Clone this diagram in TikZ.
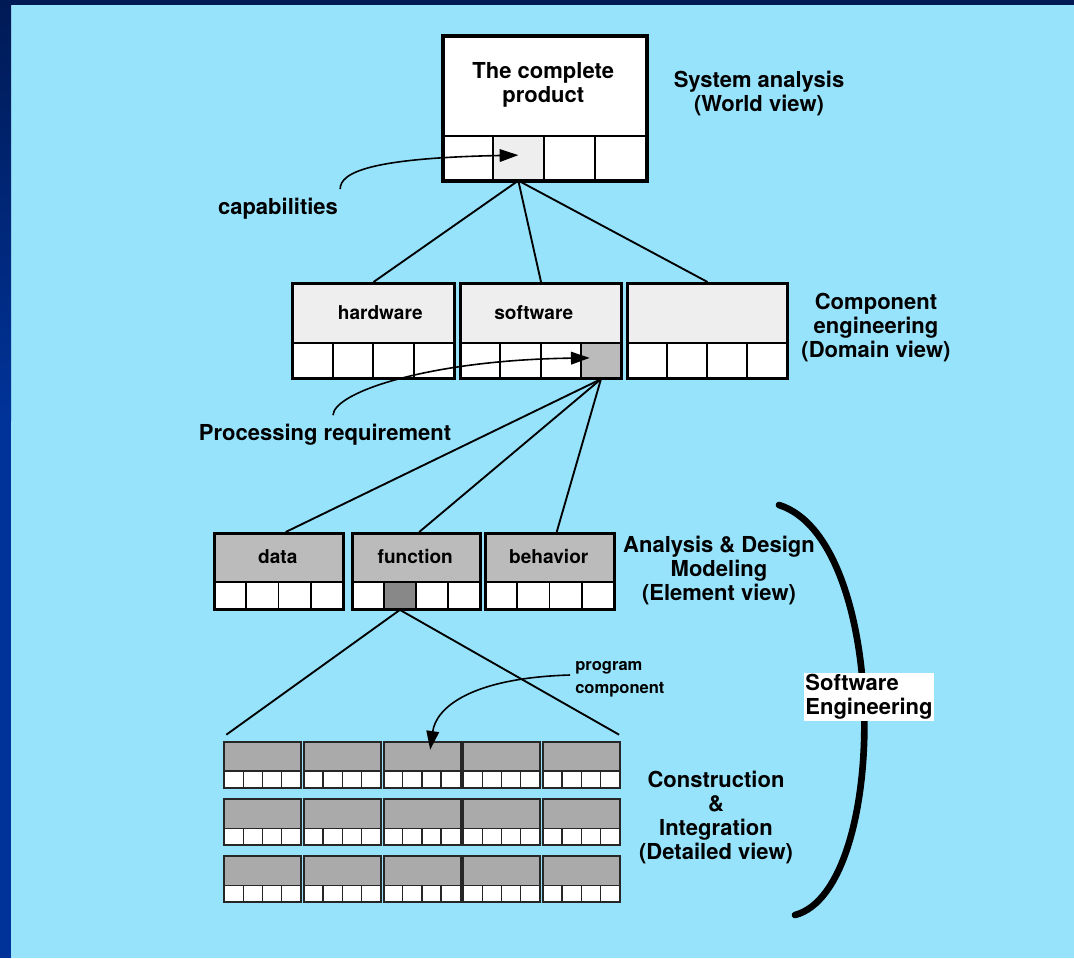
\documentclass[tikz,border=0pt]{standalone}
\usepackage{fontspec}
\setmainfont{TeX Gyre Heros}
\usetikzlibrary{arrows.meta,calc}

\definecolor{sky}{RGB}{151,227,252}
\definecolor{navy}{RGB}{0,26,85}
\definecolor{royal}{RGB}{0,51,153}
\definecolor{paleg}{RGB}{238,238,238}
\definecolor{midg}{RGB}{187,187,187}
\definecolor{boxg}{RGB}{170,170,170}
\definecolor{darkg}{RGB}{136,136,136}

\def\px{0.75pt}
\newcommand\fbig{\fontsize{16.5}{18}\selectfont\bfseries}
\newcommand\fmid{\fontsize{14.3}{17}\selectfont\bfseries}
\newcommand\fsmall{\fontsize{12.4}{17.25}\selectfont\bfseries}

% #1 name, #2 left, #3 top, #4 width, #5 head height, #6 cell height,
% #7 head options, #8 head text, #9 fills of the four cells
\newcommand\compbox[9]{%
  \node[head, #7, minimum width={#4*\px}, minimum height={#5*\px}, anchor=north west]
    (#1-head) at ({#2},{#3}) {#8};
  \foreach \f [count=\i] in {#9} {
    \node[cell, fill=\f, minimum width={#4/4*\px}, minimum height={#6*\px}, anchor=north west]
      (#1-c\i) at ({#2+(\i-1)*#4/4},{#3+#5}) {};
  }
  \node[frame, minimum width={#4*\px}, minimum height={(#5+#6)*\px}, anchor=north west]
    (#1) at ({#2},{#3}) {};
}

\begin{document}
\begin{tikzpicture}[x=0.75pt,y=-0.75pt,
  head/.style={inner sep=0, align=center, font=\fmid},
  cell/.style={draw=black, line width=1.6pt, inner sep=0},
  frame/.style={draw=black, line width=2.3pt, inner sep=0},
  link/.style={line width=1.4pt},
  pointer/.style={line width=1.2pt, -{Triangle[length=14pt,width=9.5pt]}},
  lab/.style={font=\fbig, align=center, inner sep=0},
]
\useasboundingbox (0,0) rectangle (1074,958);

% backdrop
\fill[sky] (0,0) rectangle (1074,958);
\fill[navy] (0,0) rectangle (1074,5);
\shade[top color=navy, bottom color=royal] (0,0) rectangle (11,420);
\fill[royal] (0,419) rectangle (11,958);

% system level
\begin{scope}[frame/.append style={line width=3pt}, cell/.append style={line width=1.2pt}]
  \compbox{top}{441}{34}{204}{101}{44}{fill=white, font=\fbig}{The complete\\product}{white,paleg,white,white}
\end{scope}

% component level
\compbox{hw}{291}{282}{162}{60}{35}{fill=paleg}{\hspace*{12pt}hardware}{white,white,white,white}
\compbox{sw}{459}{282}{161}{60}{35}{fill=paleg}{software\hspace*{9pt}}{white,white,white,midg}
\compbox{other}{626}{282}{160}{60}{35}{fill=paleg}{}{white,white,white,white}

% element level
\begin{scope}[cell/.append style={line width=1.4pt}]
  \compbox{data}{213}{532}{129}{49}{27}{fill=midg}{data}{white,white,white,white}
  \compbox{func}{351}{532}{128}{49}{27}{fill=midg}{function}{white,darkg,white,white}
  \compbox{behav}{484}{532}{129}{49}{27}{fill=midg}{behavior}{white,white,white,white}
\end{scope}

% detailed level
\begin{scope}[frame/.append style={line width=1.5pt, draw=black!85}, cell/.append style={line width=1pt, draw=black!85}]
  \foreach \r in {1,2,3} {
    \foreach \c in {1,...,5} {
      \compbox{g\r\c}{223.3+79.7*(\c-1)}{740.7+57.3*(\r-1)}{77}{29.5}{16.5}{fill=boxg}{}{white,white,white,white}
    }
  }
\end{scope}

% decomposition lines
\draw[link] (top-c2.south) -- (hw.north);
\draw[link] (top-c2.south) -- (sw.north);
\draw[link] (top-c2.south) -- (other.north);
\draw[link] (sw-c4.south) -- ([xshift=5pt]data.north);
\draw[link] (sw-c4.south) -- ([xshift=2pt]func.north);
\draw[link] (sw-c4.south) -- ([xshift=5pt]behav.north);
\draw[link] (func-c2.south) -- ([shift={(3,-6)}]g11.north west);
\draw[link] (func-c2.south) -- ([shift={(-2,-6)}]g15.north east);

% level captions
\node[lab] (sysl) at (759,93) {System analysis\\(World view)};
\node[lab] (compl) at (876,328) {Component\\engineering\\(Domain view)};
\node[lab] (elem) at (719,570) {Analysis \& Design\\Modeling\\(Element view)};
\node[lab] (constr) at (716,817) {Construction\\\&\\Integration\\(Detailed view)};

% pointer labels
\node[lab] (cap) at (278,209) {capabilities};
\node[lab] (proc) at (325,435) {Processing requirement};
\node[font=\fsmall, align=left, inner sep=0, anchor=west] (prog) at (575,679) {program\\component};

\draw[pointer] ([shift={(2,-9)}]cap.north east) .. controls (340,172) and (372,158) .. ([yshift=2pt]top-c2.center);
\draw[pointer] ([shift={(8,-9)}]proc.north) .. controls (334,392) and (430,360) .. ([xshift=-8.5pt,yshift=2pt]sw-c4.center);
\draw[pointer] ([shift={(-5,-4)}]prog.west) .. controls (470,678) and (436,708) .. ([shift={(8,9)}]g13.north);

% software engineering bracket
\draw[line width=5pt, line cap=round] (779,505) .. controls (890,540) and (890,890) .. (795,915);
\node[fill=white, inner sep=1pt, align=left, font=\fbig] (se) at (869,697) {Software\\Engineering};

\end{tikzpicture}
\end{document}
